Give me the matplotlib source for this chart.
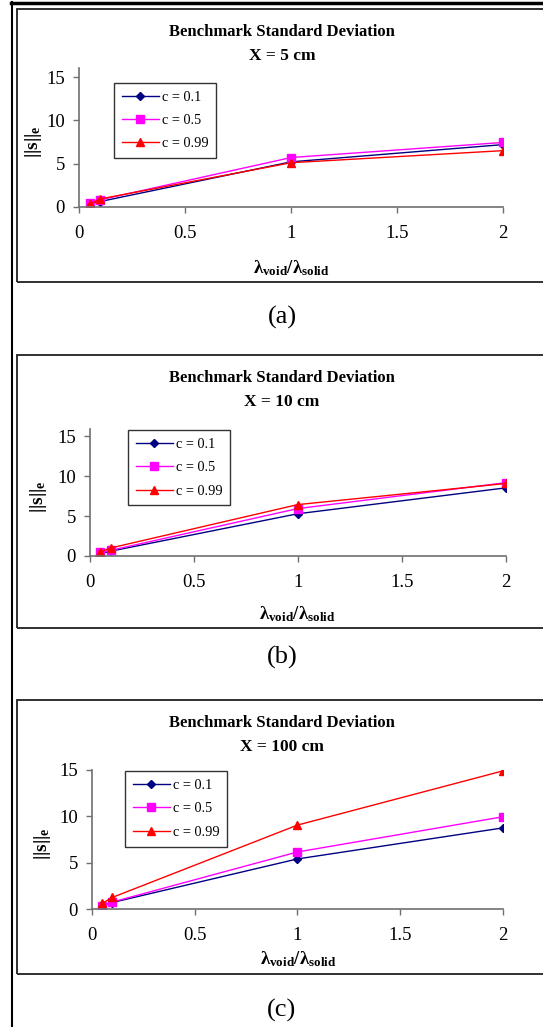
import matplotlib
matplotlib.use('Agg')
import matplotlib.pyplot as plt
from matplotlib.lines import Line2D
from matplotlib.patches import Rectangle

plt.rcParams['font.family'] = ['Liberation Serif', 'DejaVu Serif']
plt.rcParams['mathtext.fontset'] = 'custom'
plt.rcParams['mathtext.rm'] = 'Liberation Serif'
plt.rcParams['mathtext.it'] = 'Liberation Serif:italic'
plt.rcParams['mathtext.bf'] = 'Liberation Serif:bold'

# ratio lambda_void / lambda_solid
ratio = [0.05, 0.1, 1, 2]

# X = 5 cm
a_c01 = [0.3, 0.6, 5.2, 7.2]
a_c05 = [0.4, 0.8, 5.7, 7.45]
a_c099 = [0.3, 0.9, 5.1, 6.5]

# X = 10 cm
b_c01 = [0.3, 0.6, 5.3, 8.55]
b_c05 = [0.45, 0.7, 5.95, 9.2]
b_c099 = [0.5, 1.0, 6.45, 9.1]

# X = 100 cm
c_c01 = [0.4, 0.7, 5.4, 8.75]
c_c05 = [0.35, 0.75, 6.15, 9.95]
c_c099 = [0.6, 1.25, 9.05, 14.9]

series_labels = ['c = 0.1', 'c = 0.5', 'c = 0.99']
panel_titles = ['X = 5 cm', 'X = 10 cm', 'X = 100 cm']
panel_tags = ['(a)', '(b)', '(c)']

W, H = 543, 1027
fig = plt.figure(figsize=(W / 100, H / 100), dpi=100)


def fx(px):
    return px / W


def fy(py):
    return 1 - py / H


# page frame
fig.add_artist(Line2D([fx(11.5), fx(11.5)], [0, fy(2)], color='black', lw=1.5))
fig.add_artist(Line2D([fx(10.5), 1], [fy(3), fy(3)], color='black', lw=2.5))

# (box top, box bottom, axes left, axes right, axes top, axes bottom, ymax, legend box)
panels = [
    (9, 282, 79, 503.3, 67.8, 206.7, 16.1, (114, 82.7)),
    (355, 628.3, 89.7, 505.7, 429.3, 556, 15.9, (128, 430)),
    (700.3, 974, 91.8, 502.8, 770, 909, 15.0, (125, 771.3)),
]
data = [(a_c01, a_c05, a_c099), (b_c01, b_c05, b_c099), (c_c01, c_c05, c_c099)]

spine_col = '#707070'

for i, (bt, bb, al, ar, at, ab, ymax, leg) in enumerate(panels):
    fig.add_artist(Rectangle((fx(17.3), fy(bb)), fx(600) - fx(17.3), fy(bt) - fy(bb),
                             transform=fig.transFigure, fill=False,
                             edgecolor='#202020', lw=1.3))

    ax = fig.add_axes([fx(al), fy(ab), fx(ar) - fx(al), fy(at) - fy(ab)])
    s01, s05, s099 = data[i]
    ax.plot(ratio, s01, color='#000080', marker='D', ms=4.5, lw=1.0, label=series_labels[0])
    ax.plot(ratio, s05, color='#FF00FF', marker='s', ms=5.5, lw=1.0, label=series_labels[1])
    ax.plot(ratio, s099, color='#FF0000', marker='^', ms=6, lw=1.0, label=series_labels[2])

    ax.set_xlim(0, 2)
    ax.set_ylim(0, ymax)
    ax.set_xticks([0, 0.5, 1, 1.5, 2])
    ax.set_xticklabels(['0', '0.5', '1', '1.5', '2'])
    ax.set_yticks([0, 5, 10, 15])
    for side in ['top', 'right']:
        ax.spines[side].set_visible(False)
    for side in ['left', 'bottom']:
        ax.spines[side].set_color(spine_col)
        ax.spines[side].set_linewidth(1.2)
    ax.tick_params(axis='both', colors=spine_col, labelcolor='black', length=4,
                   width=1.0, labelsize=13.5, direction='out')
    ax.tick_params(axis='x', pad=9)
    ax.tick_params(axis='y', pad=6)
    ax.patch.set_alpha(0)

    lg = ax.legend(loc='upper left', bbox_to_anchor=(fx(leg[0]), fy(leg[1])),
                   bbox_transform=fig.transFigure, fontsize=10.3, frameon=True,
                   fancybox=False, handlelength=2.6, handletextpad=0.2,
                   labelspacing=0.72, borderpad=0.55, borderaxespad=0)
    lg.get_frame().set_edgecolor('black')
    lg.get_frame().set_linewidth(1.0)

    # two-line title
    cx = fx(282)
    fig.text(cx, fy(bt + 22.5), 'Benchmark Standard Deviation', ha='center', va='center',
             fontsize=12, fontweight='bold')
    fig.text(cx, fy(bt + 46.5), panel_titles[i], ha='center', va='center',
             fontsize=12.5, fontweight='bold')

    ylab_x = [33.6, 38.8, 42.2][i]
    fig.text(fx(ylab_x), fy((at + ab) / 2 + 4), r'||s||$_{\mathbf{e}}$', rotation=90,
             ha='center', va='center', fontsize=14, fontweight='bold')

    xlab_y = [268, 614, 959.3][i]
    xlab_x = [291, 297, 297.8][i]
    fig.text(fx(xlab_x), fy(xlab_y), r'λ$_{\mathbf{void}}$/λ$_{\mathbf{solid}}$',
             ha='center', va='center', fontsize=13.5, fontweight='bold')

    tag_y = [317, 657, 1010][i]
    fig.text(fx(282), fy(tag_y), panel_tags[i], ha='center', va='center', fontsize=19)

fig.savefig('out.png', dpi=100)
